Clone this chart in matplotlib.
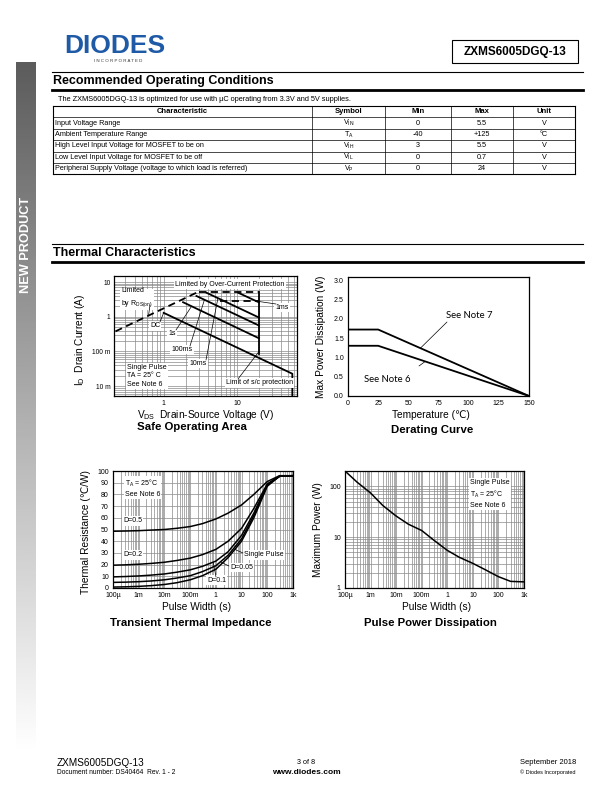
import numpy as np
import matplotlib
matplotlib.use("Agg")
from matplotlib import pyplot as plt
from matplotlib.patches import Rectangle
from matplotlib.ticker import LogLocator, NullFormatter, FixedLocator

W, H = 612, 792

# ---------------- table data ----------------
table_header = ["Characteristic", "Symbol", "Min", "Max", "Unit"]
characteristic = ["Input Voltage Range",
                  "Ambient Temperature Range",
                  "High Level Input Voltage for MOSFET to be on",
                  "Low Level Input Voltage for MOSFET to be off",
                  "Peripheral Supply Voltage (voltage to which load is referred)"]
symbol = [r"V$_{\mathrm{IN}}$", r"T$_{\mathrm{A}}$", r"V$_{\mathrm{IH}}$",
          r"V$_{\mathrm{IL}}$", r"V$_{\mathrm{P}}$"]
min_val = ["0", "-40", "3", "0", "0"]
max_val = ["5.5", "+125", "5.5", "0.7", "24"]
unit = ["V", "°C", "V", "V", "V"]

# ---------------- safe operating area ----------------
dc_v = [1.0, 57.0, 57.0]
dc_i = [1.3, 0.0228, 0.004]
s1_v = [1.84, 20.0]
s1_i = [2.63, 0.24]
ms100_v = [2.8, 20.0]
ms100_i = [3.98, 0.56]
ms10_v = [3.84, 20.0]
ms10_i = [4.94, 0.95]
ms1_v = [10.4, 20.0]
ms1_i = [4.94, 2.6]
rds_v = [0.22, 3.0]
rds_i = [0.38, 5.3]
ocp_hi_v = [3.0, 20.0]
ocp_hi_i = [5.3, 5.3]
ocp_lo_v = [5.8, 20.0]
ocp_lo_i = [2.9, 2.9]
sc_v = [20.0, 20.0]
sc_i = [5.3, 0.082]

# ---------------- derating ----------------
derate_temp = [0, 25, 150]
derate_note7 = [1.72, 1.72, 0.0]
derate_note6 = [1.30, 1.30, 0.0]

# ---------------- transient thermal impedance ----------------
zth_t = [1e-4, 3e-4, 1e-3, 3e-3, 1e-2, 3e-2, 1e-1, 3e-1, 1, 3, 10, 30, 100, 300, 1000]
zth_d05 = [48.5, 48.7, 49, 49.5, 50, 51, 52.5, 55, 59, 64, 71, 80, 91, 96, 96]
zth_d02 = [19.5, 19.8, 20.3, 21, 22, 23.5, 25.5, 28.5, 33, 40, 51, 68, 89, 95.5, 96]
zth_d01 = [9.5, 9.8, 10.3, 11, 12, 13.5, 15.5, 18.5, 23, 31, 45, 64, 88.5, 95.5, 96]
zth_d005 = [4.8, 5.0, 5.4, 6, 7, 8.5, 10.5, 14, 19, 28, 42, 62, 88, 95.5, 96]
zth_single = [0.8, 1.0, 1.4, 2.0, 3, 4.5, 7, 10.5, 16, 26, 40, 60, 87, 95.5, 96]

# ---------------- pulse power ----------------
pulse_t = [1e-4, 3e-4, 1e-3, 3e-3, 1e-2, 3e-2, 1e-1, 3e-1, 1, 3, 10, 30, 100, 300, 1000]
pulse_p = [200, 120, 74, 42, 26, 18, 13.5, 8.7, 5.5, 4.0, 3.05, 2.3, 1.67, 1.35, 1.32]

time_ticks = [1e-4, 1e-3, 1e-2, 1e-1, 1, 10, 100, 1000]
time_labels = ["100µ", "1m", "10m", "100m", "1", "10", "100", "1k"]

plt.rcParams['font.family'] = ['Liberation Sans', 'DejaVu Sans']
plt.rcParams['mathtext.fontset'] = 'custom'
plt.rcParams['mathtext.rm'] = 'Liberation Sans'
plt.rcParams['mathtext.it'] = 'Liberation Sans:italic'
plt.rcParams['mathtext.bf'] = 'Liberation Sans:bold'


def rect(x0, y0, x1, y1):
    return [x0 / W, 1 - y1 / H, (x1 - x0) / W, (y1 - y0) / H]


def fp(x, y):
    return (x / W, 1 - y / H)


fig = plt.figure(figsize=(6.12, 7.92), dpi=100)

# ---------- page furniture ----------
page = fig.add_axes([0, 0, 1, 1], zorder=-1)
grad = np.linspace(0.36, 1.0, 300).reshape(-1, 1)
page.imshow(grad, cmap='gray', vmin=0, vmax=1, extent=[16, 36, 752, 62], aspect='auto')
page.set_xlim(0, W)
page.set_ylim(H, 0)
page.axis('off')
page.text(26.5, 245, "NEW PRODUCT", rotation=90, color='white', weight='bold',
          fontsize=9.2, ha='center', va='center')

page.text(64, 46, "DIODES", fontsize=19, weight='bold', color='#1f5aa6',
          ha='left', va='center')
page.text(118, 61, "I N C O R P O R A T E D", fontsize=3.2, color='#333333',
          ha='center', va='center')
page.add_patch(Rectangle((452, 40), 126, 23, fill=False, lw=0.8, ec='black'))
page.text(515, 51.5, "ZXMS6005DGQ-13", fontsize=8.5, weight='bold',
          ha='center', va='center')

page.plot([52, 583], [72, 72], color='black', lw=0.8)
page.text(53, 81, "Recommended Operating Conditions", fontsize=9, weight='bold',
          ha='left', va='center')
page.plot([52, 583], [90, 90], color='black', lw=2)
page.text(58, 99.5, "The ZXMS6005DGQ-13 is optimized for use with µC operating "
          "from 3.3V and 5V supplies.", fontsize=5.3, ha='left', va='center')

col_edges = [53, 312, 385, 451, 513, 575]
row_top = 106
row_h = 11.4
n_rows = len(characteristic) + 1
for i in range(n_rows + 1):
    page.plot([col_edges[0], col_edges[-1]], [row_top + i * row_h] * 2,
              color='black', lw=0.8 if i in (0, n_rows) else 0.5)
for j, x in enumerate(col_edges):
    page.plot([x, x], [row_top, row_top + n_rows * row_h], color='black',
              lw=0.8 if j in (0, len(col_edges) - 1) else 0.5)
for j, name in enumerate(table_header):
    cx = (col_edges[j] + col_edges[j + 1]) / 2
    page.text(cx, row_top + row_h / 2, name, fontsize=5.5, weight='bold',
              ha='center', va='center')
columns = [symbol, min_val, max_val, unit]
for i in range(len(characteristic)):
    cy = row_top + (i + 1.5) * row_h
    page.text(col_edges[0] + 2, cy, characteristic[i], fontsize=5.2,
              ha='left', va='center')
    for j, col in enumerate(columns):
        cx = (col_edges[j + 1] + col_edges[j + 2]) / 2
        page.text(cx, cy, col[i], fontsize=5.2, ha='center', va='center')

page.plot([52, 583], [244, 244], color='black', lw=0.8)
page.text(53, 253, "Thermal Characteristics", fontsize=9, weight='bold',
          ha='left', va='center')
page.plot([52, 583], [262, 262], color='black', lw=2)

# footer
page.text(57, 763, "ZXMS6005DGQ-13", fontsize=7.2, ha='left', va='center')
page.text(57, 773, "Document number: DS40464  Rev. 1 - 2", fontsize=4.8,
          ha='left', va='center')
page.text(306, 763, "3 of 8", fontsize=5.2, ha='center', va='center')
page.text(306, 772.5, "www.diodes.com", fontsize=6, weight='bold',
          ha='center', va='center')
page.text(576, 763, "September 2018", fontsize=5.5, ha='right', va='center')
page.text(576, 772, "© Diodes Incorporated", fontsize=4, ha='right', va='center')

grid_kw = dict(color='#8a8a8a', lw=0.5)
box = dict(facecolor='white', edgecolor='none', pad=0.8)


def style(ax):
    for s in ax.spines.values():
        s.set_linewidth(0.9)
        s.set_color('black')
    ax.tick_params(which='both', length=0, labelsize=5, pad=3)
    ax.set_axisbelow(True)


def leader(ax, start_px, xy):
    ax.annotate('', xy=xy, xytext=fp(*start_px), textcoords='figure fraction',
                arrowprops=dict(arrowstyle='-', lw=0.5, color='black',
                                shrinkA=0, shrinkB=0))


def note(ax, x, y, s, **kw):
    kw.setdefault('fontsize', 5)
    ax.text(*fp(x, y), s, transform=fig.transFigure, **kw)


# ---------- Safe operating area ----------
ax1 = fig.add_axes(rect(114, 276, 297, 396))
ax1.set_xscale('log')
ax1.set_yscale('log')
ax1.set_xlim(0.21, 66)
ax1.set_ylim(0.0052, 15)
ax1.xaxis.set_major_locator(FixedLocator([1, 10]))
ax1.set_xticklabels(["1", "10"])
ax1.yaxis.set_major_locator(FixedLocator([0.01, 0.1, 1, 10]))
ax1.set_yticklabels(["10 m", "100 m", "1", "10"])
for axis in (ax1.xaxis, ax1.yaxis):
    axis.set_minor_locator(LogLocator(base=10, subs=np.arange(2, 10), numticks=50))
    axis.set_minor_formatter(NullFormatter())
ax1.grid(True, which='both', **grid_kw)
style(ax1)
ax1.tick_params(axis='y', labelsize=4.8, pad=2.5)
lw_soa = 1.3
ax1.plot(dc_v, dc_i, color='black', lw=lw_soa)
for v, i in [(s1_v, s1_i), (ms100_v, ms100_i), (ms10_v, ms10_i), (ms1_v, ms1_i), (sc_v, sc_i)]:
    ax1.plot(v, i, color='black', lw=lw_soa)
for v, i in [(rds_v, rds_i), (ocp_hi_v, ocp_hi_i), (ocp_lo_v, ocp_lo_i)]:
    ax1.plot(v, i, color='black', lw=lw_soa, ls=(0, (4, 2.5)))
note(ax1, 230, 284, "Limited by Over-Current Protection", ha='center', va='center', bbox=box)
note(ax1, 121, 298, "Limited\nby R$_{\\mathrm{DS(on)}}$", ha='left', va='center',
     bbox=box, linespacing=1.5)
note(ax1, 155, 326, "DC", ha='center', va='center', bbox=box)
note(ax1, 172, 333.5, "1s", ha='center', va='center', bbox=box)
note(ax1, 182, 349.5, "100ms", ha='center', va='center', bbox=box)
note(ax1, 198, 363.5, "10ms", ha='center', va='center', bbox=box)
note(ax1, 282, 307.5, "1ms", ha='center', va='center', bbox=box)
note(ax1, 226, 383, "Limit of s/c protection", ha='left', va='center', bbox=box)
note(ax1, 127, 376, "Single Pulse\nTA = 25° C\nSee Note 6", ha='left', va='center',
     bbox=box, linespacing=1.25)
leader(ax1, (150, 305), (0.62, 1.05))
leader(ax1, (160, 322), (1.0, 1.3))
leader(ax1, (176, 330), (2.4, 2.0))
leader(ax1, (190, 346), (3.6, 3.1))
leader(ax1, (206, 360), (5.5, 3.45))
leader(ax1, (276, 304), (18.0, 2.85))
leader(ax1, (238, 379), (20.0, 0.1))
page.text(80, 340, "I$_{\\mathrm{D}}$  Drain Current (A)", rotation=90, fontsize=7.3,
          ha='center', va='center')
page.text(206, 415, "V$_{\\mathrm{DS}}$  Drain-Source Voltage (V)", fontsize=7.3,
          ha='center', va='center')
page.text(192, 427.5, "Safe Operating Area", fontsize=8.2, weight='bold',
          ha='center', va='center')

# ---------- Derating curve ----------
ax2 = fig.add_axes(rect(348, 277, 529, 396))
ax2.set_xlim(0, 150)
ax2.set_ylim(0, 3.08)
ax2.set_xticks([0, 25, 50, 75, 100, 125, 150])
ax2.set_yticks([0, 0.5, 1.0, 1.5, 2.0, 2.5, 3.0])
ax2.set_yticklabels(["0.0", "0.5", "1.0", "1.5", "2.0", "2.5", "3.0"])
style(ax2)
ax2.plot(derate_temp, derate_note7, color='black', lw=1.3)
ax2.plot(derate_temp, derate_note6, color='black', lw=1.3)
note(ax2, 446, 316, "See Note 7", family='Lato', fontsize=6.8, ha='left', va='center')
note(ax2, 364, 380, "See Note 6", family='Lato', fontsize=6.8, ha='left', va='center')
leader(ax2, (447, 322), (60, 1.72 * 90 / 125))
leader(ax2, (419, 366), (64, 1.30 * 86 / 125))
page.text(321, 337, "Max Power Dissipation (W)", rotation=90, fontsize=7.3,
          ha='center', va='center')
page.text(431, 415.5, "Temperature (℃)", fontsize=7.3, ha='center', va='center')
page.text(432, 430, "Derating Curve", fontsize=8.2, weight='bold',
          ha='center', va='center')

# ---------- Transient thermal impedance ----------
ax3 = fig.add_axes(rect(113, 471, 293, 588))
ax3.set_xscale('log')
ax3.set_xlim(1e-4, 1e3)
ax3.set_ylim(0, 100)
ax3.xaxis.set_major_locator(FixedLocator(time_ticks))
ax3.set_xticklabels(time_labels)
ax3.xaxis.set_minor_locator(LogLocator(base=10, subs=np.arange(2, 10), numticks=100))
ax3.xaxis.set_minor_formatter(NullFormatter())
ax3.set_yticks(np.arange(0, 101, 10))
ax3.grid(True, which='both', axis='x', **grid_kw)
ax3.grid(True, which='major', axis='y', **grid_kw)
style(ax3)
for z in (zth_d05, zth_d02, zth_d01, zth_d005, zth_single):
    ax3.plot(zth_t, z, color='black', lw=1.1)
note(ax3, 125, 488, "T$_{\\mathrm{A}}$ = 25°C\nSee Note 6", ha='left', va='center',
     bbox=box, linespacing=1.3)
note(ax3, 123, 521, "D=0.5", ha='left', va='center', bbox=box)
note(ax3, 123, 555, "D=0.2", ha='left', va='center', bbox=box)
note(ax3, 244, 555, "Single Pulse", ha='left', va='center', bbox=box)
note(ax3, 230, 567.5, "D=0.05", ha='left', va='center', bbox=box)
note(ax3, 207, 580, "D=0.1", ha='left', va='center', bbox=box)
leader(ax3, (243, 553), (5.4, 33))
leader(ax3, (229, 566), (1.6, 22))
leader(ax3, (216, 577), (0.8, 21.5))
page.text(86, 532, "Thermal Resistance (℃/W)", rotation=90, fontsize=7.3,
          ha='center', va='center')
page.text(197, 607, "Pulse Width (s)", fontsize=7.3, ha='center', va='center')
page.text(191, 622.5, "Transient Thermal Impedance", fontsize=8.2, weight='bold',
          ha='center', va='center')

# ---------- Pulse power dissipation ----------
ax4 = fig.add_axes(rect(345, 471, 524, 588))
ax4.set_xscale('log')
ax4.set_yscale('log')
ax4.set_xlim(1e-4, 1e3)
ax4.set_ylim(1, 200)
ax4.xaxis.set_major_locator(FixedLocator(time_ticks))
ax4.set_xticklabels(time_labels)
ax4.yaxis.set_major_locator(FixedLocator([1, 10, 100]))
ax4.set_yticklabels(["1", "10", "100"])
for axis in (ax4.xaxis, ax4.yaxis):
    axis.set_minor_locator(LogLocator(base=10, subs=np.arange(2, 10), numticks=100))
    axis.set_minor_formatter(NullFormatter())
ax4.grid(True, which='both', **grid_kw)
style(ax4)
ax4.plot(pulse_t, pulse_p, color='black', lw=1.1)
note(ax4, 470, 494, "Single Pulse\nT$_{\\mathrm{A}}$ = 25°C\nSee Note 6", ha='left',
     va='center', bbox=box, linespacing=1.3)
page.text(318, 530, "Maximum Power (W)", rotation=90, fontsize=7.3,
          ha='center', va='center')
page.text(436, 607, "Pulse Width (s)", fontsize=7.3, ha='center', va='center')
page.text(430, 622.5, "Pulse Power Dissipation", fontsize=8.2, weight='bold',
          ha='center', va='center')

fig.savefig("out.png", dpi=100)
